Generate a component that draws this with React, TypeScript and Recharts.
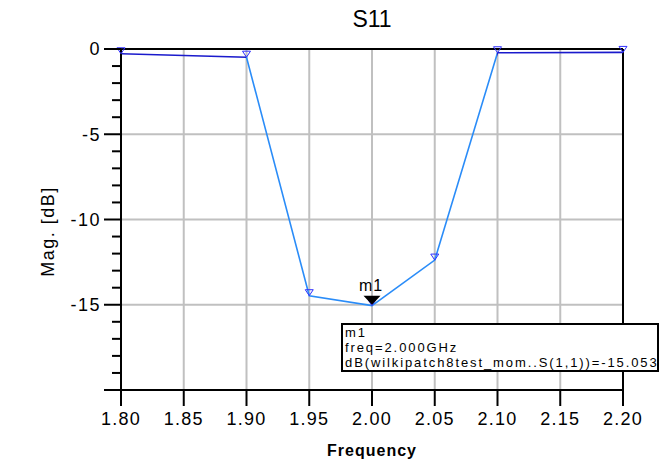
import React from 'react';
import { LineChart, Line, XAxis, YAxis, CartesianGrid, ReferenceLine, ReferenceDot } from 'recharts';

// S11 sweep (GHz / dB)
const freqs = [1.8, 1.9, 1.95, 2.0, 2.05, 2.1, 2.2];
const s11 = [-0.28, -0.48, -14.47, -15.053, -12.38, -0.22, -0.2];

const xTicks = [1.8, 1.85, 1.9, 1.95, 2.0, 2.05, 2.1, 2.15, 2.2];
const yTicks = [-20, -19, -18, -17, -16, -15, -14, -13, -12, -11, -10, -9, -8, -7, -6, -5, -4, -3, -2, -1, 0];
const yGrid = [-15, -10, -5];

const marker = { name: 'm1', freq: 2.0, value: -15.053 };
const markerLines = ['m1', 'freq=2.000GHz', 'dB(wilkipatch8test_mom..S(1,1))=-15.053'];

const data = freqs.map((f, i) => ({ freq: f, s11: s11[i] }));

const FONT = '"Liberation Sans", Arial, sans-serif';

const YTick = ({ x, y, payload }: any) => {
  const major = payload.value % 5 === 0;
  const len = major ? 17 : 9;
  return (
    <g>
      <line x1={x - len} x2={x} y1={y} y2={y} stroke="#000" strokeWidth={2} />
      {major && payload.value > -20 && (
        <text x={x - len - 3} y={y} dy="0.36em" textAnchor="end" fontSize={18} fontFamily={FONT}
          fill="#000" style={{ letterSpacing: 1.5 }}>
          {payload.value}
        </text>
      )}
    </g>
  );
};

const TriDot = ({ cx, cy }: any) => {
  if (cx == null || cy == null) return null;
  return (
    <path d={`M${cx - 4},${cy - 6}L${cx + 4},${cy - 6}L${cx},${cy}Z`} fill="none" stroke="#3030ff" strokeWidth={1} />
  );
};

const MarkerShape = ({ cx, cy }: any) => (
  <g>
    <path d={`M${cx - 8.5},${cy - 10}L${cx + 8.5},${cy - 10}L${cx},${cy - 1}Z`} fill="#000" />
    <text x={cx - 1} y={cy - 15} textAnchor="middle" fontSize={16} fontFamily={FONT} fill="#000"
      style={{ letterSpacing: 1 }}>
      {marker.name}
    </text>
  </g>
);

export default function App() {
  return (
    <div style={{ position: 'absolute', left: 0, top: 0, width: 670, height: 466, background: '#fff', fontFamily: FONT }}>
      <div style={{ position: 'absolute', left: 272, top: 8, width: 200, textAlign: 'center', fontSize: 23, lineHeight: '23px' }}>
        S11
      </div>
      <LineChart width={670} height={466} data={data} margin={{ top: 49, right: 47, bottom: 0, left: 0 }}>
        <defs>
          <linearGradient id="s11stroke" x1="0" y1="0" x2="1" y2="0">
            <stop offset="0" stopColor="#1a1acc" />
            <stop offset="0.25" stopColor="#1a1acc" />
            <stop offset="0.25" stopColor="#2a8cf8" />
            <stop offset="0.75" stopColor="#2a8cf8" />
            <stop offset="0.75" stopColor="#1a1acc" />
            <stop offset="1" stopColor="#1a1acc" />
          </linearGradient>
        </defs>
        <CartesianGrid stroke="#c0c0c0" strokeWidth={2} verticalValues={xTicks} horizontalValues={yGrid} />
        <XAxis
          dataKey="freq"
          type="number"
          domain={[1.8, 2.2]}
          ticks={xTicks}
          interval={0}
          tickFormatter={(v: number) => v.toFixed(2)}
          height={76}
          tickSize={16}
          tickMargin={6}
          axisLine={{ stroke: '#000', strokeWidth: 2 }}
          tickLine={{ stroke: '#000', strokeWidth: 2 }}
          tick={{ fill: '#000', fontSize: 18, fontFamily: FONT, style: { letterSpacing: 1.2 } } as any}
          label={{ value: 'Frequency', position: 'insideBottom', offset: 10, fill: '#000', fontSize: 16, fontWeight: 'bold', fontFamily: FONT, style: { letterSpacing: 1 } } as any}
        />
        <YAxis
          type="number"
          domain={[-20, 0]}
          ticks={yTicks}
          interval={0}
          width={121}
          tickSize={0}
          tickMargin={0}
          tickLine={false}
          axisLine={{ stroke: '#000', strokeWidth: 2 }}
          tick={<YTick />}
          label={{
            content: ({ viewBox }: any) => {
              const cx = viewBox.x + 48;
              const cy = viewBox.y + viewBox.height / 2 + 12;
              return (
                <text x={cx} y={cy} dy="0.36em" textAnchor="middle" fontSize={18} fontFamily={FONT} fill="#000"
                  transform={`rotate(-90, ${cx}, ${cy})`} style={{ letterSpacing: 1.5 }}>
                  Mag. [dB]
                </text>
              );
            },
          }}
        />
        <ReferenceLine y={0} stroke="#000" strokeWidth={2} />
        <ReferenceLine x={2.2} stroke="#000" strokeWidth={2} />
        <Line
          type="linear"
          dataKey="s11"
          stroke="url(#s11stroke)"
          strokeWidth={1.6}
          dot={<TriDot />}
          activeDot={false}
          isAnimationActive={false}
        />
        <ReferenceDot x={marker.freq} y={marker.value} shape={<MarkerShape />} />
      </LineChart>
      <div
        style={{
          position: 'absolute', left: 341, top: 323, width: 318, height: 49, boxSizing: 'border-box',
          border: '2px solid #000', background: '#fff', fontSize: 13, lineHeight: '15px',
          letterSpacing: 1.9, paddingLeft: 2, whiteSpace: 'nowrap', color: '#000',
        }}
      >
        {markerLines.map((t) => (
          <div key={t}>{t}</div>
        ))}
      </div>
    </div>
  );
}
